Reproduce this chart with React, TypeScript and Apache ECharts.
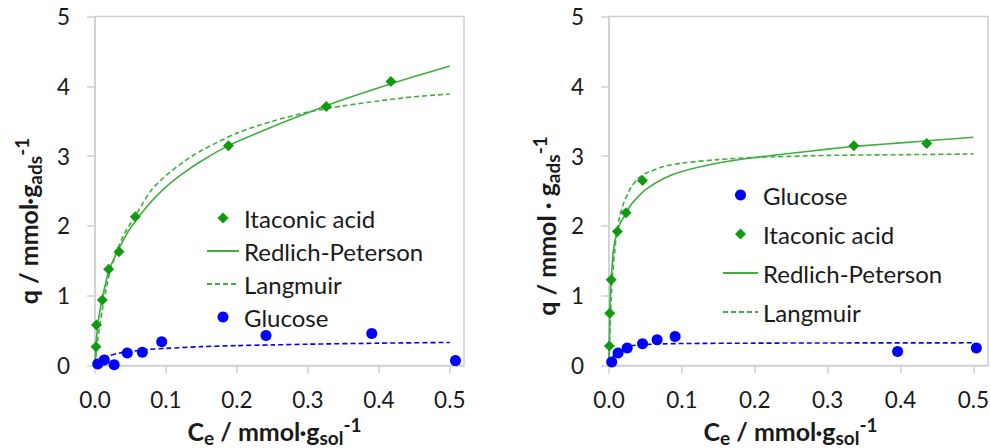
import React, { useEffect, useRef } from "react";
import * as echarts from "echarts";

// ---------- Data ----------
const X_TICKS = [0, 0.1, 0.2, 0.3, 0.4, 0.5];

// Left panel
const L_ITA_X = [0.0014, 0.002, 0.0103, 0.0192, 0.0338, 0.0568, 0.188, 0.326, 0.417];
const L_ITA_Y = [0.27, 0.58, 0.94, 1.38, 1.63, 2.13, 3.15, 3.71, 4.07];
const L_GLU_X = [0.0038, 0.013, 0.027, 0.0455, 0.0667, 0.094, 0.241, 0.39, 0.508];
const L_GLU_Y = [0.02, 0.08, 0.01, 0.18, 0.19, 0.34, 0.43, 0.46, 0.07];
const L_RP_X = [0, 0.001, 0.002, 0.005, 0.01, 0.02, 0.034, 0.05, 0.075, 0.1, 0.125, 0.15, 0.188, 0.25, 0.3, 0.35, 0.4, 0.45, 0.5];
const L_RP_Y = [0, 0.22, 0.38, 0.66, 0.95, 1.37, 1.68, 1.97, 2.3, 2.56, 2.76, 2.93, 3.15, 3.42, 3.62, 3.81, 3.98, 4.14, 4.29];
const L_LA_X = [0, 0.002, 0.005, 0.01, 0.02, 0.03, 0.04, 0.057, 0.08, 0.1, 0.125, 0.15, 0.2, 0.25, 0.3, 0.35, 0.4, 0.45, 0.5];
const L_LA_Y = [0, 0.2, 0.45, 0.78, 1.3, 1.62, 1.86, 2.15, 2.52, 2.72, 2.92, 3.08, 3.33, 3.5, 3.63, 3.72, 3.79, 3.85, 3.89];
const L_GFIT_X = [0.003, 0.01, 0.02, 0.035, 0.05, 0.075, 0.1, 0.15, 0.2, 0.25, 0.3, 0.4, 0.5];
const L_GFIT_Y = [0.04, 0.1, 0.14, 0.18, 0.2, 0.23, 0.245, 0.27, 0.285, 0.295, 0.305, 0.32, 0.33];

// Right panel
const R_ITA_X = [0.0005, 0.001, 0.003, 0.0115, 0.0234, 0.046, 0.336, 0.436];
const R_ITA_Y = [0.28, 0.75, 1.23, 1.92, 2.19, 2.65, 3.15, 3.18];
const R_GLU_X = [0.0037, 0.0124, 0.025, 0.046, 0.066, 0.0907, 0.396, 0.504];
const R_GLU_Y = [0.05, 0.18, 0.25, 0.31, 0.37, 0.415, 0.2, 0.25];
const R_RP_X = [0, 0.0005, 0.001, 0.002, 0.003, 0.006, 0.01, 0.015, 0.02, 0.03, 0.04, 0.05, 0.075, 0.1, 0.15, 0.2, 0.25, 0.3, 0.35, 0.4, 0.45, 0.5];
const R_RP_Y = [0, 0.28, 0.75, 1.05, 1.23, 1.65, 1.87, 2.03, 2.12, 2.3, 2.42, 2.52, 2.68, 2.78, 2.9, 2.98, 3.04, 3.1, 3.15, 3.19, 3.23, 3.27];
const R_LA_X = [0, 0.0005, 0.001, 0.003, 0.005, 0.01, 0.015, 0.02, 0.03, 0.04, 0.05, 0.075, 0.1, 0.15, 0.2, 0.3, 0.4, 0.5];
const R_LA_Y = [0, 0.2, 0.4, 0.95, 1.3, 1.85, 2.15, 2.32, 2.55, 2.68, 2.75, 2.85, 2.9, 2.95, 2.98, 3.01, 3.02, 3.03];
const R_GFIT_X = [0.004, 0.01, 0.02, 0.03, 0.046, 0.075, 0.1, 0.2, 0.3, 0.5];
const R_GFIT_Y = [0.1, 0.2, 0.26, 0.28, 0.3, 0.31, 0.315, 0.32, 0.323, 0.325];

const LEFT_LEGEND = ["Itaconic acid", "Redlich-Peterson", "Langmuir", "Glucose"];
const RIGHT_LEGEND = ["Glucose", "Itaconic acid", "Redlich-Peterson", "Langmuir"];

// ---------- Styling ----------
const FONT = "Lato";
const TEXT = "#1a1a1a";
const AXIS = "#d0d0d0";
const BLUE = "#0000ff";
const GREEN_MARK = "#119a11";
const GREEN_LINE = "#3fae3f";

const zip = (xs: number[], ys: number[]) => xs.map((x, i) => [x, ys[i]]);

const rich = {
  b: { fontFamily: FONT, fontSize: 25, fontWeight: "bold", color: TEXT, lineHeight: 32 },
  sub: { fontFamily: FONT, fontSize: 19, fontWeight: "bold", color: TEXT, lineHeight: 19, verticalAlign: "bottom" },
  sup: { fontFamily: FONT, fontSize: 19, fontWeight: "bold", color: TEXT, lineHeight: 13, verticalAlign: "top" },
};

function xAxis(gridIndex: number, padRight: number) {
  return {
    gridIndex,
    type: "value",
    min: 0,
    max: 0.52,
    interval: 0.1,
    splitLine: { show: false },
    axisLine: { show: true, onZero: false, lineStyle: { color: AXIS, width: 1.5 } },
    axisTick: { show: true, length: 8, customValues: X_TICKS, lineStyle: { color: AXIS, width: 1.5 } },
    axisLabel: {
      customValues: X_TICKS,
      formatter: (v: number) => v.toFixed(1),
      margin: 22,
      fontFamily: FONT,
      fontSize: 22.5,
      color: TEXT,
    },
    name: "{b|C}{sub|e}{b| / mmol·g}{sub|sol}{sup|-1}",
    nameLocation: "middle",
    nameGap: 38,
    nameTextStyle: { rich, padding: [0, padRight, 0, 0] },
  };
}

function yAxis(gridIndex: number, name: string, nameGap: number, padRight: number) {
  return {
    gridIndex,
    type: "value",
    min: 0,
    max: 5,
    interval: 1,
    splitLine: { show: false },
    axisLine: { show: true, onZero: false, lineStyle: { color: AXIS, width: 1.5 } },
    axisTick: { show: true, length: 8, lineStyle: { color: AXIS, width: 1.5 } },
    axisLabel: { margin: 25, fontFamily: FONT, fontSize: 22.5, color: TEXT },
    name,
    nameLocation: "middle",
    nameRotate: 90,
    nameGap,
    nameTextStyle: { rich, padding: [0, padRight, 0, 0] },
  };
}

function scatter(name: string, idx: number, data: number[][], symbol: string, color: string) {
  return {
    type: "scatter",
    name,
    xAxisIndex: idx,
    yAxisIndex: idx,
    data,
    symbol,
    symbolSize: 11,
    itemStyle: { color, opacity: 1 },
    z: 5,
  };
}

function curve(name: string, idx: number, data: number[][], color: string, dashed: boolean) {
  return {
    type: "line",
    name,
    xAxisIndex: idx,
    yAxisIndex: idx,
    data,
    symbol: "none",
    smooth: 0.25,
    lineStyle: { color, width: 1.6, type: dashed ? [5, 3] : "solid" },
    itemStyle: { color },
    z: 3,
  };
}

const DIAMOND_ICON = "path://M5,0L10,5L5,10L0,5Z";
const HIDDEN = { color: "rgba(0,0,0,0)", borderColor: "rgba(0,0,0,0)", borderWidth: 0, opacity: 0 };

function legendData(names: string[]) {
  return names.map((n) => {
    if (n === "Itaconic acid") return { name: n, icon: DIAMOND_ICON };
    if (n === "Glucose") return { name: n, icon: "circle" };
    return { name: n, itemStyle: HIDDEN };
  });
}

export default function App() {
  const ref = useRef<HTMLDivElement>(null);
  useEffect(() => {
    document.body.style.margin = "0";
    document.body.style.overflow = "hidden";
    document.documentElement.style.overflow = "hidden";
    if (!ref.current) return;
    const chart = echarts.init(ref.current, undefined, { renderer: "svg" });
    chart.setOption({
      animation: false,
      backgroundColor: "#ffffff",
      grid: [
        { left: 95, top: 16.5, width: 369, height: 349, show: true, borderColor: AXIS, borderWidth: 1.5, containLabel: false, outerBoundsMode: "none" },
        { left: 609, top: 16.5, width: 379, height: 349, show: true, borderColor: AXIS, borderWidth: 1.5, containLabel: false, outerBoundsMode: "none" },
      ],
      xAxis: [xAxis(0, 10), xAxis(1, 16)],
      yAxis: [
        yAxis(0, "{b|q / mmol·g}{sub|ads}{sup|-1}", 51, 60),
        yAxis(1, "{b|q / mmol · g}{sub|ads}{sup|-1}", 47, 70),
      ],
      legend: [
        {
          orient: "vertical",
          left: 201,
          top: 201,
          itemWidth: 32,
          itemHeight: 11,
          itemGap: 9,
          itemTextGap: 6,
          selectedMode: false,
          textStyle: { fontFamily: FONT, fontSize: 24, color: TEXT, lineHeight: 24 },
          data: legendData(LEFT_LEGEND),
        },
        {
          orient: "vertical",
          left: 717,
          top: 178,
          itemWidth: 35,
          itemHeight: 11,
          itemGap: 15,
          itemTextGap: 4,
          selectedMode: false,
          textStyle: { fontFamily: FONT, fontSize: 24, color: TEXT, lineHeight: 24 },
          data: legendData(RIGHT_LEGEND),
        },
      ],
      series: [
        curve("Redlich-Peterson", 0, zip(L_RP_X, L_RP_Y), GREEN_LINE, false),
        curve("Langmuir", 0, zip(L_LA_X, L_LA_Y), GREEN_LINE, true),
        curve("Glucose fit", 0, zip(L_GFIT_X, L_GFIT_Y), BLUE, true),
        scatter("Itaconic acid", 0, zip(L_ITA_X, L_ITA_Y), "diamond", GREEN_MARK),
        scatter("Glucose", 0, zip(L_GLU_X, L_GLU_Y), "circle", BLUE),
        curve("Redlich-Peterson", 1, zip(R_RP_X, R_RP_Y), GREEN_LINE, false),
        curve("Langmuir", 1, zip(R_LA_X, R_LA_Y), GREEN_LINE, true),
        curve("Glucose fit", 1, zip(R_GFIT_X, R_GFIT_Y), BLUE, true),
        scatter("Itaconic acid", 1, zip(R_ITA_X, R_ITA_Y), "diamond", GREEN_MARK),
        scatter("Glucose", 1, zip(R_GLU_X, R_GLU_Y), "circle", BLUE),
      ],
    });
    return () => chart.dispose();
  }, []);
  return <div ref={ref} style={{ width: 990, height: 448, background: "#fff" }} />;
}
